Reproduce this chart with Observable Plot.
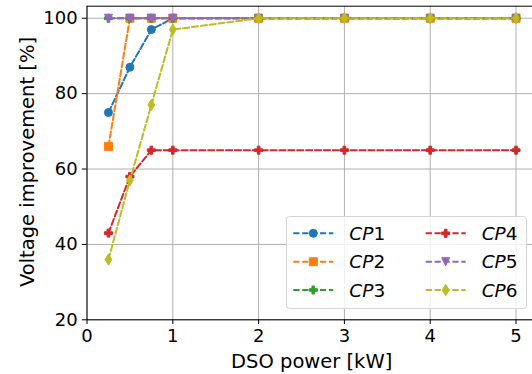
<!DOCTYPE html>
<html>
<head>
<meta charset="utf-8">
<script src="https://cdn.jsdelivr.net/npm/d3@7"></script>
<script src="https://cdn.jsdelivr.net/npm/@observablehq/plot@0.6"></script>
<style>
  html, body { margin: 0; padding: 0; background: #fff; }
  #wrap { position: relative; width: 532px; height: 374px; overflow: hidden; }
  #wrap svg { position: absolute; left: 0; top: 0; }
</style>
</head>
<body>
<div id="wrap"></div>
<script>
// ---- data ----
const xValues = [0.25, 0.5, 0.75, 1, 2, 3, 4, 5];
const seriesNames = ["CP1", "CP2", "CP3", "CP4", "CP5", "CP6"];
const seriesColors = ["#1f77b4", "#ff7f0e", "#2ca02c", "#d62728", "#9467bd", "#bcbd22"];
const seriesMarkers = ["circle", "square", "plusFilled", "plusFilled", "triangleDown", "thinDiamond"];
const cp1 = [75, 87, 97, 100, 100, 100, 100, 100];
const cp2 = [66, 100, 100, 100, 100, 100, 100, 100];
const cp3 = [100, 100, 100, 100, 100, 100, 100, 100];
const cp4 = [43, 58, 65, 65, 65, 65, 65, 65];
const cp5 = [100, 100, 100, 100, 100, 100, 100, 100];
const cp6 = [36, 57, 77, 97, 100, 100, 100, 100];
const seriesValues = [cp1, cp2, cp3, cp4, cp5, cp6];
const xTicks = [0, 1, 2, 3, 4, 5];
const yTicks = [20, 40, 60, 80, 100];
const xLabel = "DSO power [kW]";
const yLabel = "Voltage improvement [%]";

// ---- marker shapes (matplotlib-like) ----
const symbols = {
  circle: { draw(c, size) { const r = Math.sqrt(size / Math.PI); c.moveTo(r, 0); c.arc(0, 0, r, 0, 2 * Math.PI); c.closePath(); } },
  square: { draw(c, size) { const r = Math.sqrt(size / Math.PI); c.moveTo(-r, -r); c.lineTo(r, -r); c.lineTo(r, r); c.lineTo(-r, r); c.closePath(); } },
  plusFilled: { draw(c, size) { const r = Math.sqrt(size / Math.PI); const w = r / 3;
    c.moveTo(-w, -r); c.lineTo(w, -r); c.lineTo(w, -w); c.lineTo(r, -w); c.lineTo(r, w); c.lineTo(w, w);
    c.lineTo(w, r); c.lineTo(-w, r); c.lineTo(-w, w); c.lineTo(-r, w); c.lineTo(-r, -w); c.lineTo(-w, -w); c.closePath(); } },
  triangleDown: { draw(c, size) { const r = Math.sqrt(size / Math.PI); c.moveTo(0, r); c.lineTo(-r, -r); c.lineTo(r, -r); c.closePath(); } },
  thinDiamond: { draw(c, size) { const r = Math.sqrt(size / Math.PI); const h = r * 1.414, w = h * 0.6;
    c.moveTo(0, -h); c.lineTo(w, 0); c.lineTo(0, h); c.lineTo(-w, 0); c.closePath(); } }
};

const rows = [];
seriesNames.forEach((name, i) => {
  xValues.forEach((x, j) => rows.push({ series: name, x, y: seriesValues[i][j] }));
});

const font = "DejaVu Sans, sans-serif";
const dash = "6.2,2.7";

const marks = [
  Plot.gridX(xTicks, { stroke: "#b0b0b0", strokeOpacity: 1, strokeWidth: 1 }),
  Plot.gridY(yTicks, { stroke: "#b0b0b0", strokeOpacity: 1, strokeWidth: 1 })
];
seriesNames.forEach((name, i) => {
  const d = rows.filter(r => r.series === name);
  marks.push(Plot.lineY(d, { x: "x", y: "y", stroke: seriesColors[i], strokeWidth: 2, strokeDasharray: dash }));
  marks.push(Plot.dot(d, { x: "x", y: "y", r: 4, symbol: symbols[seriesMarkers[i]], fill: seriesColors[i], stroke: seriesColors[i], strokeWidth: 1 }));
});
marks.push(
  Plot.frame({ stroke: "#000", strokeWidth: 1 }),
  Plot.axisX({ ticks: xTicks, tickSize: 4.7, tickPadding: 4.7, fontSize: 18, label: null, tickFormat: d => String(d), stroke: "#000" }),
  Plot.axisY({ ticks: yTicks, tickSize: 4.7, tickPadding: 4.7, fontSize: 18, label: null, tickFormat: d => String(d), stroke: "#000" }),
  Plot.text([xLabel], { text: d => d, frameAnchor: "bottom", textAnchor: "middle", lineAnchor: "middle", dy: 42, fontSize: 19.5, fill: "#000" }),
  Plot.text([yLabel], { text: d => d, frameAnchor: "left", textAnchor: "middle", lineAnchor: "middle", dx: -59.4, dy: -1, rotate: -90, fontSize: 19.5, fill: "#000" })
);

const chart = Plot.plot({
  width: 532,
  height: 374,
  marginLeft: 86.5,
  marginRight: -3.9,
  marginTop: 5.7,
  marginBottom: 54.7,
  style: { fontFamily: font, color: "#000", background: "#fff", overflow: "visible" },
  x: { domain: [0, 5.2375] },
  y: { domain: [20, 103.2] },
  marks
});
const wrap = document.getElementById("wrap");
wrap.appendChild(chart);

// ---- legend overlay (inside the axes, lower right) ----
const lg = d3.select(wrap).append("svg")
  .attr("width", 532).attr("height", 374)
  .style("font-family", font);
const box = { x: 286.5, y: 216.5, w: 240, h: 92 };
lg.append("rect").attr("x", box.x).attr("y", box.y).attr("width", box.w).attr("height", box.h)
  .attr("rx", 3).attr("fill", "#fff").attr("fill-opacity", 0.8)
  .attr("stroke", "#d6d6d6").attr("stroke-width", 1);
const colX = [293.3, 425.7];
const rowY = [233.3, 261.7, 290];
seriesNames.forEach((name, i) => {
  const col = Math.floor(i / 3), row = i % 3;
  const x0 = colX[col], y0 = rowY[row];
  const g = lg.append("g");
  g.append("line").attr("x1", x0).attr("x2", x0 + 40).attr("y1", y0).attr("y2", y0)
    .attr("stroke", seriesColors[i]).attr("stroke-width", 2).attr("stroke-dasharray", dash);
  const p = d3.path();
  symbols[seriesMarkers[i]].draw(p, Math.PI * 16);
  g.append("path").attr("d", p.toString()).attr("transform", `translate(${x0 + 20},${y0})`)
    .attr("fill", seriesColors[i]).attr("stroke", seriesColors[i]).attr("stroke-width", 1);
  const t = g.append("text").attr("x", x0 + 56).attr("y", y0 + 6.7).attr("font-size", 18.5).attr("fill", "#000");
  t.append("tspan").attr("font-style", "italic").text(name.slice(0, 2));
  t.append("tspan").text(name.slice(2));
});
</script>
</body>
</html>
